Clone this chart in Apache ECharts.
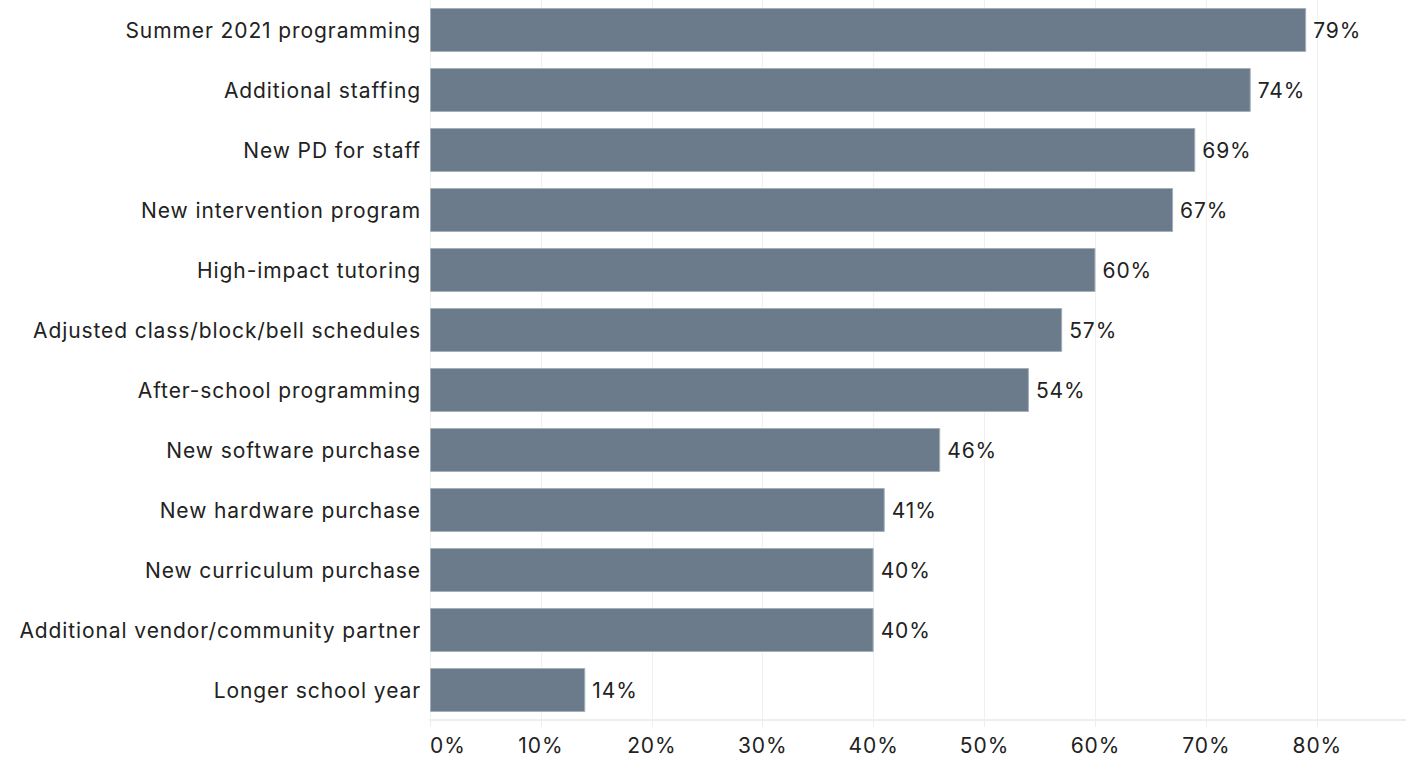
<!DOCTYPE html>
<html>
<head>
<meta charset="utf-8">
<script src="https://cdn.jsdelivr.net/npm/echarts@6/dist/echarts.min.js"></script>
<style>
  html, body { margin: 0; padding: 0; background: #fff; }
  #chart { width: 1406px; height: 758px; letter-spacing: 0.9px; }
</style>
</head>
<body>
<div id="chart"></div>
<script>
// Share of respondents using each strategy (top to bottom)
const categories = [
  'Summer 2021 programming',
  'Additional staffing',
  'New PD for staff',
  'New intervention program',
  'High-impact tutoring',
  'Adjusted class/block/bell schedules',
  'After-school programming',
  'New software purchase',
  'New hardware purchase',
  'New curriculum purchase',
  'Additional vendor/community partner',
  'Longer school year'
];
const values = [0.79, 0.74, 0.69, 0.67, 0.60, 0.57, 0.54, 0.46, 0.41, 0.40, 0.40, 0.14];
const tickValues = [0, 0.1, 0.2, 0.3, 0.4, 0.5, 0.6, 0.7, 0.8];

const FONT = 'Inter';
const chart = echarts.init(document.getElementById('chart'), null, { renderer: 'svg' });

chart.setOption({
  animation: false,
  grid: { left: 430, right: 0, top: 0, bottom: 38, containLabel: false },
  xAxis: {
    type: 'value',
    min: 0,
    max: 0.88,
    axisLine: { show: true, lineStyle: { color: '#eeeeee', width: 2 } },
    axisTick: { show: true, length: 7, lineStyle: { color: '#eeeeee' }, customValues: tickValues },
    axisLabel: {
      customValues: tickValues,
      formatter: v => Math.round(v * 100) + '%',
      alignMinLabel: 'left',
      color: '#222',
      fontFamily: FONT,
      fontSize: 21,
      margin: 15
    },
    splitLine: { show: true, lineStyle: { color: '#f0f0f0', width: 1 } }
  },
  yAxis: {
    type: 'category',
    inverse: true,
    data: categories,
    axisLine: { show: false },
    axisTick: { show: false },
    axisLabel: { color: '#222', fontFamily: FONT, fontSize: 21, margin: 9 }
  },
  series: [{
    type: 'bar',
    data: values,
    barWidth: 44,
    itemStyle: { color: '#6b7b8b', borderColor: '#a3afbb', borderWidth: 1 },
    label: {
      show: true,
      position: 'right',
      distance: 7,
      formatter: p => Math.round(p.value * 100) + '%',
      color: '#222',
      fontFamily: FONT,
      fontSize: 21
    }
  }]
});
</script>
</body>
</html>
